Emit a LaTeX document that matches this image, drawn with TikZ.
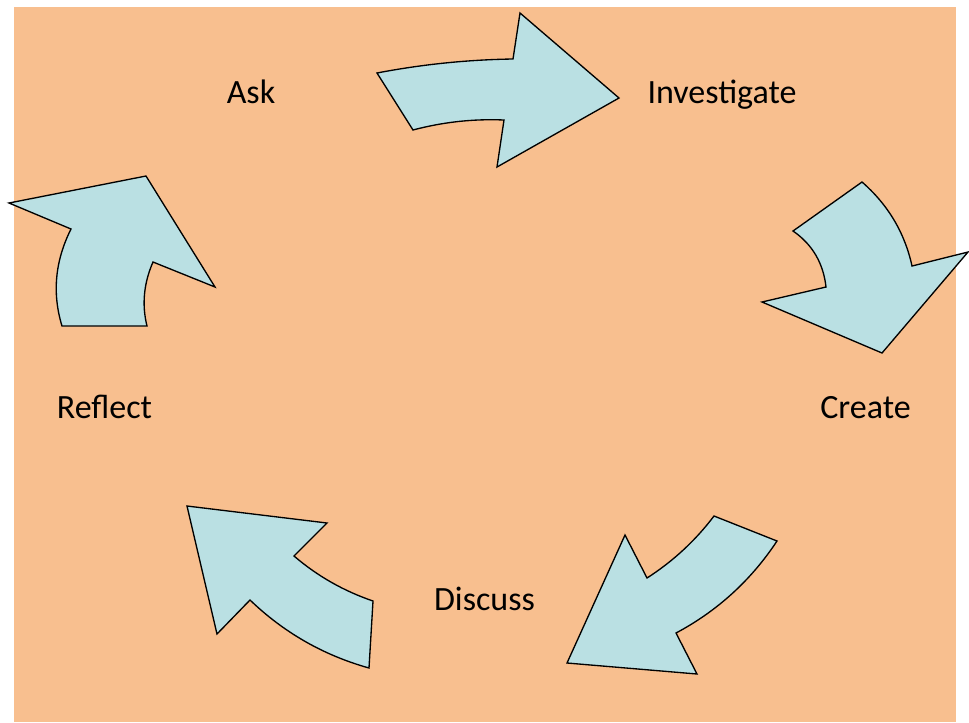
\documentclass[tikz,border=0pt]{standalone}
\usepackage{fontspec}
\setmainfont{Carlito}
\definecolor{bgorange}{RGB}{248,191,143}
\definecolor{arrowblue}{RGB}{186,224,227}
\begin{document}
\begin{tikzpicture}[x=0.75pt,y=-0.75pt,
  blockarrow/.style={draw=black,fill=arrowblue,line width=1pt,line join=miter},
  label/.style={anchor=base,inner sep=0pt,font=\fontsize{25.5}{30}\selectfont}]
\useasboundingbox (0,0) rectangle (969,722);
\fill[bgorange] (14,7) rectangle (956,722);
% Ask -> Investigate
\draw[blockarrow] (377,73) .. controls (422.3,64.3) and (467.7,59.7) .. (513,59) -- (520,13) -- (619,98)
  -- (497,167) -- (504,120) .. controls (473.3,118.7) and (443,122) .. (413,130) -- cycle;
% Investigate -> Create
\draw[blockarrow] (862,182) .. controls (888,204.7) and (904.7,232.7) .. (912,266) -- (968,252) -- (882,353)
  -- (762,302) -- (826,287) .. controls (823.3,263) and (812.3,244.3) .. (793,231) -- cycle;
% Create -> Discuss
\draw[blockarrow] (714,516) -- (777,541) .. controls (751,580.3) and (717.3,611) .. (676,633) -- (697,674)
  -- (567,663) -- (625,535) -- (647,578) .. controls (673,561.3) and (695.3,540.7) .. (714,516) -- cycle;
% Discuss -> Reflect
\draw[blockarrow] (373,601) -- (369,668) .. controls (323.7,655.3) and (284,632.7) .. (250,600) -- (217,634)
  -- (187,506) -- (327,523) -- (294,556) .. controls (317.3,576) and (343.7,591) .. (373,601) -- cycle;
% Reflect -> Ask
\draw[blockarrow] (62,326) -- (147,326) .. controls (141.7,304.7) and (143.7,283.3) .. (153,262) -- (215,287)
  -- (146,176) -- (9,203) -- (71,229) .. controls (55,261) and (52,293.3) .. (62,326) -- cycle;
\node[label] (ask) at (251,103.5) {Ask};
\node[label] (investigate) at (722,103.5) {Investigate};
\node[label] (create) at (865.5,418) {Create};
\node[label] (reflect) at (104.5,418) {Reflect};
\node[label] (discuss) at (484.5,610) {Discuss};
\end{tikzpicture}
\end{document}
